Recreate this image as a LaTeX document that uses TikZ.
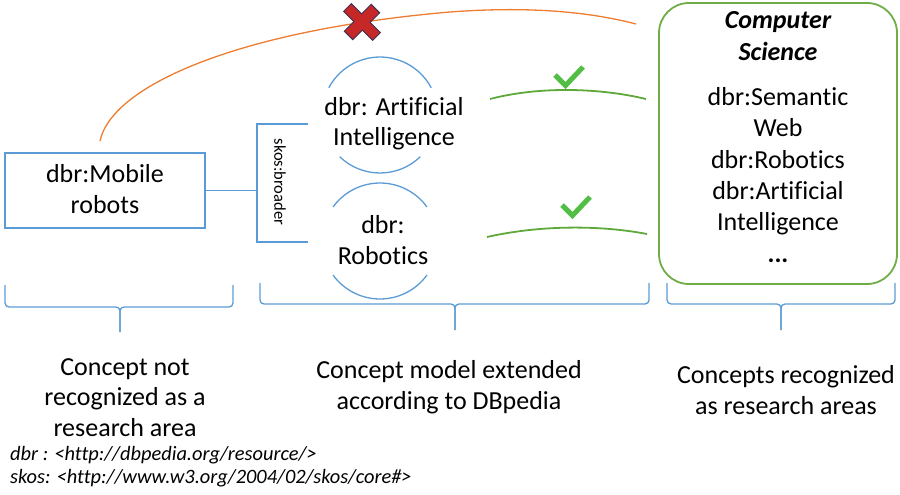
\documentclass[tikz,border=0pt]{standalone}
\usepackage{fontspec}
\setmainfont[Ligatures=NoCommon]{Carlito}
\usetikzlibrary{calc}

\definecolor{lineblue}{HTML}{5B9BD5}
\definecolor{arcorange}{HTML}{ED7D31}
\definecolor{boxgreen}{HTML}{70AD47}
\definecolor{linkgreen}{HTML}{5FA83A}
\definecolor{tickgreen}{HTML}{52BE45}
\definecolor{crossred}{HTML}{C62828}
\definecolor{crossedge}{HTML}{3C2F55}

\begin{document}
% multi-line nodes are anchored at the baseline of their last line
\begin{tikzpicture}[x=1pt,y=-1pt,
  bluepen/.style={draw=lineblue,line width=1.3pt},
  bigtext/.style={font=\fontsize{26}{30.5}\selectfont,align=center,inner sep=0pt,text=black,anchor=base},
  listtext/.style={font=\fontsize{26}{31.3}\selectfont,align=center,inner sep=0pt,text=black,anchor=base},
  notetext/.style={font=\fontsize{20.4}{23}\selectfont\itshape,anchor=base west,inner sep=0pt},
  linkline/.style={draw=linkgreen,line width=1.8pt},
  tick/.style={draw=tickgreen,line width=5pt,line join=miter,line cap=butt},
  bracepath/.style={bluepen,rounded corners=4pt}
]
\useasboundingbox (0,0) rectangle (900,495);

% concept that is not a research area
\node[bluepen,minimum width=200pt,minimum height=75pt,inner sep=0pt] (mobile) at (105,190.5) {};
\node[bigtext] (mobiletxt) at (105,213) {dbr:Mobile\\robots};

% skos:broader bracket
\coordinate (brtop) at (257,124);
\coordinate (brbot) at (257,242);
\coordinate (brtopend) at (308,124);
\coordinate (brbotend) at (308,242);
\draw[bluepen] (brtopend) -- (brtop) -- (brbot) -- (brbotend);
\draw[bluepen] (mobile.east) -- (mobile.east -| brtop);
\node[font=\fontsize{16.5}{18}\selectfont,rotate=-90,inner sep=0pt] (broader) at (280,182) {skos:broader};

% broader concepts, each framed by two arcs
\coordinate (aic) at (380,115);
\coordinate (roc) at (380,241);
\node[bigtext] (ai) at (394,145.5) {dbr: Artificial\\Intelligence};
\node[bigtext] (rob) at (383,264) {dbr:\\Robotics};
\draw[lineblue,line width=1.3pt] (aic) ++(-152:58) arc[start angle=-152,end angle=-28,radius=58];
\draw[lineblue,line width=1.3pt] (aic) ++(46:58) arc[start angle=46,end angle=134,radius=58];
\draw[lineblue,line width=1.3pt] (roc) ++(-144:58) arc[start angle=-144,end angle=-36,radius=58];
\draw[lineblue,line width=1.3pt] (roc) ++(36:58) arc[start angle=36,end angle=144,radius=58];

% research areas
\node[draw=boxgreen,line width=1.8pt,rounded corners=30pt,minimum width=238pt,minimum height=281pt,inner sep=0pt] (cs) at (778,143.5) {};
\node[listtext,font=\fontsize{26}{32}\selectfont\bfseries\itshape] (cstitle) at (778,60) {Computer\\Science};
\node[listtext] (cslist) at (778,262) {dbr:Semantic\\Web\\dbr:Robotics\\dbr:Artificial\\Intelligence\\\textbf{...}};

% direct match fails
\coordinate (orangestart) at (100,141);
\coordinate (orangeend) at (636,24);
\draw[arcorange,line width=1.3pt] (orangestart) .. controls (112,85) and (240,30) .. (450,12)
  .. controls (530,6) and (590,12) .. (orangeend);
\begin{scope}[shift={(362,22)},rotate=45,yscale=1.08]
  \filldraw[fill=crossred,draw=crossedge,line width=0.9pt]
    (-5.5,-19) -- (5.5,-19) -- (5.5,-5.5) -- (19,-5.5) -- (19,5.5) -- (5.5,5.5)
    -- (5.5,19) -- (-5.5,19) -- (-5.5,5.5) -- (-19,5.5) -- (-19,-5.5) -- (-5.5,-5.5) -- cycle;
\end{scope}

% matches through the broader concepts
\coordinate (aiout) at (490,99);
\coordinate (aiin) at (646,99);
\coordinate (robout) at (487,237);
\coordinate (robin) at (647,234);
\draw[linkline] (aiout) .. controls (540,86) and (600,88) .. (aiin);
\draw[linkline] (robout) .. controls (540,225) and (600,225) .. (robin);
\draw[tick] (555,75) -- (565.5,85.5) -- (583,67);
\draw[tick] (562,205) -- (572.5,215.5) -- (590,197);

% underbraces
\draw[bracepath] (5,285) -- (5,307) -- (120,307) -- (120,332);
\draw[bracepath] (233,285) -- (233,307) -- (120,307) -- (120,332);
\draw[bracepath] (260,283) -- (260,304) -- (455,304) -- (455,330);
\draw[bracepath] (649,283) -- (649,304) -- (455,304) -- (455,330);
\draw[bracepath] (667,283) -- (667,304) -- (781,304) -- (781,330);
\draw[bracepath] (895,283) -- (895,304) -- (781,304) -- (781,330);

\node[bigtext] (lbl1) at (125,436) {Concept not\\recognized as a\\research area};
\node[bigtext] (lbl2) at (449,409) {Concept model extended\\according to DBpedia};
\node[bigtext] (lbl3) at (786,414) {Concepts recognized\\as research areas};

% prefixes
\node[notetext] (dbrns) at (10,460) {dbr : <http://dbpedia.org/resource/>};
\node[notetext] (skosns) at (10,483) {skos: <http://www.w3.org/2004/02/skos/core\#>};
\end{tikzpicture}
\end{document}
